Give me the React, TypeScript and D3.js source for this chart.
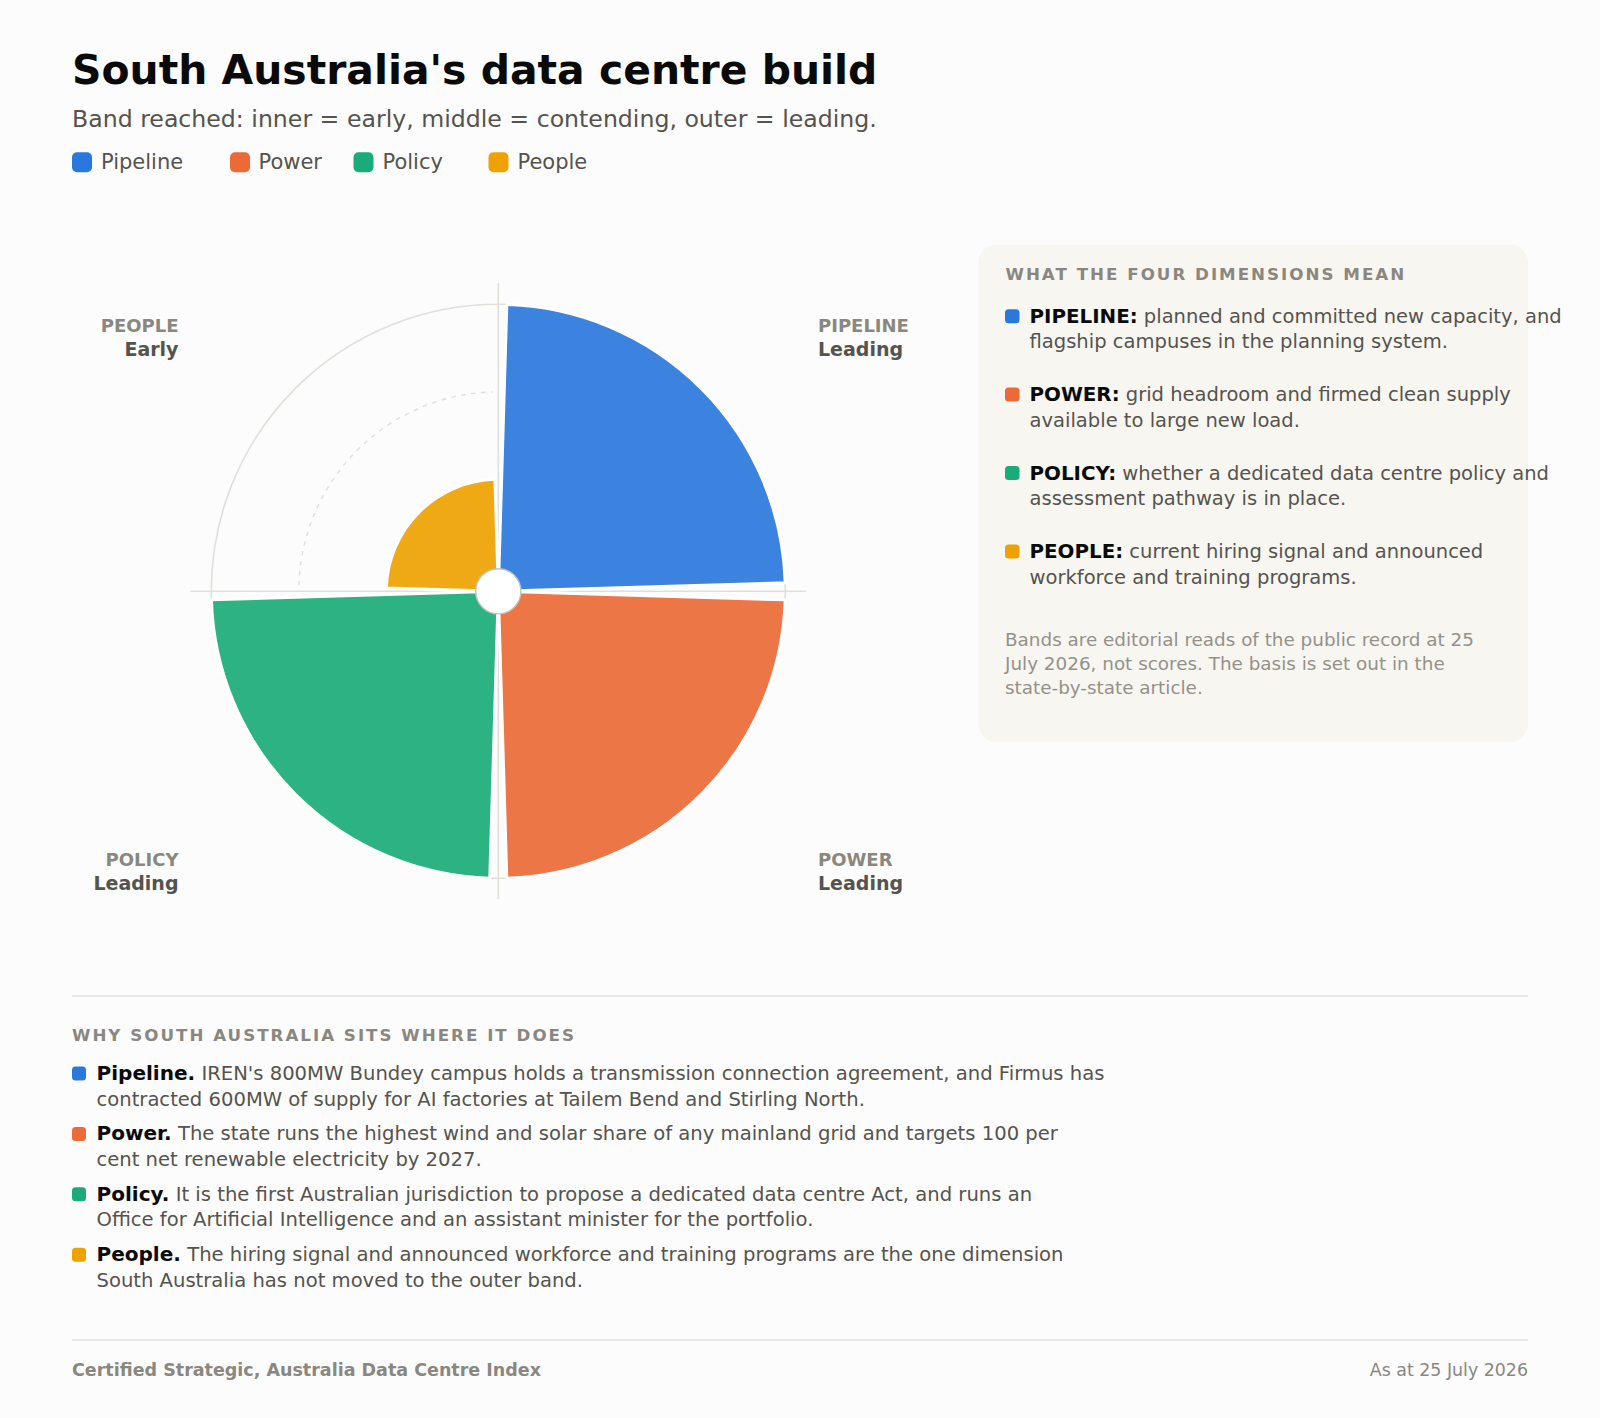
import React from 'react';
import * as d3 from 'd3';

const W = 1600;
const H = 1418;
const FONT = '"DejaVu Sans", sans-serif';

const dimensions = ['Pipeline', 'Power', 'Policy', 'People'];
const bandNames = ['Early', 'Contending', 'Leading'];
const bandReached = [3, 3, 3, 1];
const colors = ['#2b78dc', '#ec6a37', '#1bab7a', '#eea200'];

const panelMeanings = [
  ['planned and committed new capacity, and', 'flagship campuses in the planning system.'],
  ['grid headroom and firmed clean supply', 'available to large new load.'],
  ['whether a dedicated data centre policy and', 'assessment pathway is in place.'],
  ['current hiring signal and announced', 'workforce and training programs.'],
];
const panelNote = [
  'Bands are editorial reads of the public record at 25',
  'July 2026, not scores. The basis is set out in the',
  'state-by-state article.',
];
const whyLines = [
  ["IREN's 800MW Bundey campus holds a transmission connection agreement, and Firmus has", 'contracted 600MW of supply for AI factories at Tailem Bend and Stirling North.'],
  ['The state runs the highest wind and solar share of any mainland grid and targets 100 per', 'cent net renewable electricity by 2027.'],
  ['It is the first Australian jurisdiction to propose a dedicated data centre Act, and runs an', 'Office for Artificial Intelligence and an assistant minister for the portfolio.'],
  ['The hiring signal and announced workforce and training programs are the one dimension', 'South Australia has not moved to the outer band.'],
];

const legendX = [72, 230, 353.5, 488.5];

const cx = 498.3;
const cy = 591.3;
const hubR = 22.6;

const radius = d3.scaleLinear().domain([0, 3]).range([24.5, 287]);
const angle = d3.scaleBand<string>().domain(dimensions).range([0, 2 * Math.PI]);
const gap = (1.7 * Math.PI) / 180;
const arc = d3.arc<any>();

const ink = '#0a0a0a';
const body = '#55534e';
const muted = '#8a8780';
const note = '#94918a';
const rule = '#e0dfda';
const paper = '#fcfcfc';

// dashed ring, only across quadrants that stop short of that band
const ringPath = (r: number, a0: number, a1: number) => {
  const p = d3.path();
  p.arc(0, 0, r, a0 - Math.PI / 2, a1 - Math.PI / 2);
  return p.toString();
};

export default function App() {
  return (
    <svg
      width={W}
      height={H}
      viewBox={`0 0 ${W} ${H}`}
      style={{ position: 'absolute', left: 0, top: 0, background: paper, fontFamily: FONT }}
    >
      <rect width={W} height={H} fill={paper} />
      <text x={72} y={84} fontSize={40.9} fontWeight={700} fill={ink}>South Australia's data centre build</text>
      <text x={72} y={127} fontSize={23.63} fill={body}>Band reached: inner = early, middle = contending, outer = leading.</text>
      {dimensions.map((d, i) => (
        <g key={d}>
          <rect x={legendX[i]} y={152.3} width={20} height={20} rx={5} fill={colors[i]} />
          <text x={legendX[i] + (i === 1 ? 28.5 : 29)} y={169.3} fontSize={21} fill={body}>{d}</text>
        </g>
      ))}

      {/* rings and axes */}
      <g transform={`translate(${cx},${cy})`}>
        <circle r={radius(3)} fill="none" stroke={rule} strokeWidth={1.6} />
        <line x1={0} x2={0} y1={-308} y2={308} stroke={rule} strokeWidth={1.6} />
        <line x1={-308} x2={308} y1={0} y2={0} stroke={rule} strokeWidth={1.6} />
        {dimensions.map((d, i) =>
          bandReached[i] < 2 ? (
            <path
              key={d}
              d={ringPath(radius(2), angle(d)! + gap, angle(d)! + angle.bandwidth() - gap)}
              fill="none"
              stroke={rule}
              strokeWidth={1.4}
              strokeDasharray="4.5 5.5"
            />
          ) : null
        )}
        {dimensions.map((d, i) => {
          const a0 = angle(d)!;
          return (
            <path
              key={d}
              d={arc({
                innerRadius: hubR - 4,
                outerRadius: radius(bandReached[i]),
                startAngle: a0 + gap,
                endAngle: a0 + angle.bandwidth() - gap,
              })!}
              fill={colors[i]}
              fillOpacity={0.92}
              stroke="#ffffff"
              strokeWidth={3}
              strokeLinejoin="round"
            />
          );
        })}
        <circle r={hubR} fill="#ffffff" stroke="#c4c2bb" strokeWidth={1.4} />
      </g>

      {dimensions.map((d, i) => {
        const right = i < 2;
        const x = right ? 818 : 178.5;
        const y = i === 0 || i === 3 ? 332 : 865.7;
        return (
          <g key={d} textAnchor={right ? 'start' : 'end'} fontWeight={700}>
            <text x={x} y={y} fontSize={18} fill={muted}>{d.toUpperCase()}</text>
            <text x={x} y={y + 24} fontSize={19} fill={body}>{bandNames[bandReached[i] - 1]}</text>
          </g>
        );
      })}

      {/* meaning panel */}
      <rect x={978.5} y={244.5} width={549.5} height={497.5} rx={18} fill="#f8f6f1" />
      <text x={1005.5} y={280} fontSize={16.7} fontWeight={700} fill={muted} letterSpacing={2}>WHAT THE FOUR DIMENSIONS MEAN</text>
      {dimensions.map((d, i) => {
        const y = 322.7 + i * 78.4;
        return (
          <g key={d}>
            <rect x={1005} y={y - 13.5} width={14.5} height={14} rx={3.5} fill={colors[i]} />
            <text x={1029.5} y={y} fontSize={19.5} fill={body}>
              <tspan fontWeight={700} fontSize={19.85} fill={ink}>{d.toUpperCase()}:</tspan> {panelMeanings[i][0]}
            </text>
            <text x={1029.5} y={y + 25.6} fontSize={19.55} fill={body}>{panelMeanings[i][1]}</text>
          </g>
        );
      })}
      {panelNote.map((t, i) => (
        <text key={i} x={1005} y={645.7 + i * 24.2} fontSize={18.37} fill={note}>{t}</text>
      ))}

      {/* why section */}
      <line x1={72} x2={1528} y1={996} y2={996} stroke={rule} strokeWidth={1.4} />
      <text x={72} y={1040.5} fontSize={16.7} fontWeight={700} fill={muted} letterSpacing={2}>WHY SOUTH AUSTRALIA SITS WHERE IT DOES</text>
      {dimensions.map((d, i) => {
        const y = 1080 + i * 60.4;
        return (
          <g key={d}>
            <rect x={72} y={y - 13.5} width={14} height={14} rx={3.5} fill={colors[i]} />
            <text x={96.5} y={y} fontSize={19.6} fill={body}>
              <tspan fontWeight={700} fontSize={20.05} fill={ink}>{d}.</tspan> {whyLines[i][0]}
            </text>
            <text x={96.5} y={y + 25.6} fontSize={19.58} fill={body}>{whyLines[i][1]}</text>
          </g>
        );
      })}

      <line x1={72} x2={1528} y1={1340} y2={1340} stroke={rule} strokeWidth={1.4} />
      <text x={72} y={1376} fontSize={17.5} fontWeight={700} fill={muted}>Certified Strategic, Australia Data Centre Index</text>
      <text x={1528} y={1376} fontSize={17.4} fill={muted} textAnchor="end">As at 25 July 2026</text>
    </svg>
  );
}
